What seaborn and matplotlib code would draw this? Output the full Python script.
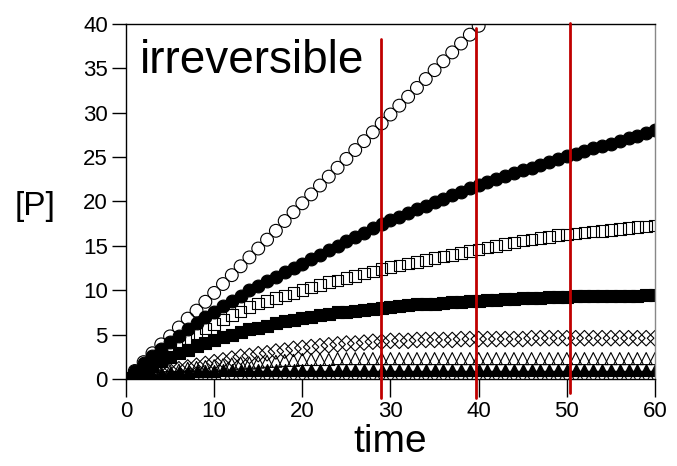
import matplotlib
matplotlib.use("Agg")
import matplotlib.pyplot as plt
import seaborn as sns

# time grid (one sample per time unit)
time = list(range(61))

# [P] for each run
open_circles = [0.0, 0.9, 1.9, 2.9, 3.9, 4.8, 5.8, 6.8, 7.7, 8.7,
                9.7, 10.7, 11.7, 12.7, 13.7, 14.7, 15.7, 16.7, 17.8, 18.8,
                19.8, 20.8, 21.8, 22.8, 23.8, 24.8, 25.8, 26.8, 27.8, 28.8,
                29.8, 30.8, 31.8, 32.8, 33.8, 34.8, 35.8, 36.8, 37.8, 38.8,
                39.8, 40.8]
filled_circles = [0.0, 0.9, 1.8, 2.6, 3.4, 4.2, 4.9, 5.6, 6.3, 7.0,
                  7.6, 8.2, 8.8, 9.4, 10.0, 10.5, 11.0, 11.5, 12.0, 12.5,
                  13.0, 13.5, 14.0, 14.5, 15.0, 15.5, 16.0, 16.5, 17.0, 17.5,
                  17.9, 18.3, 18.7, 19.1, 19.5, 19.9, 20.3, 20.7, 21.1, 21.5,
                  21.9, 22.2, 22.5, 22.9, 23.2, 23.5, 23.8, 24.1, 24.4, 24.8,
                  25.1, 25.4, 25.7, 26.0, 26.3, 26.5, 26.8, 27.1, 27.4, 27.7, 28.0]
open_squares = [0.0, 0.4, 1.1, 1.8, 2.6, 3.3, 4.0, 4.6, 5.2, 5.7,
                6.2, 6.7, 7.2, 7.6, 8.1, 8.5, 8.8, 9.1, 9.4, 9.7,
                10.0, 10.3, 10.6, 10.9, 11.1, 11.4, 11.6, 11.9, 12.1, 12.4,
                12.6, 12.8, 13.0, 13.2, 13.4, 13.6, 13.8, 14.0, 14.2, 14.4,
                14.6, 14.8, 15.0, 15.2, 15.4, 15.6, 15.7, 15.9, 16.0, 16.2,
                16.3, 16.4, 16.5, 16.6, 16.7, 16.8, 16.9, 17.0, 17.1, 17.2, 17.3]
filled_squares = [0.0, 0.5, 1.0, 1.5, 2.0, 2.5, 2.9, 3.3, 3.7, 4.1,
                  4.4, 4.7, 5.0, 5.3, 5.6, 5.8, 6.0, 6.3, 6.5, 6.7,
                  6.9, 7.0, 7.2, 7.3, 7.5, 7.6, 7.7, 7.8, 7.9, 8.0,
                  8.1, 8.2, 8.3, 8.4, 8.5, 8.5, 8.6, 8.7, 8.7, 8.8,
                  8.8, 8.9, 8.9, 9.0, 9.0, 9.1, 9.1, 9.1, 9.2, 9.2,
                  9.2, 9.3, 9.3, 9.3, 9.3, 9.4, 9.4, 9.4, 9.4, 9.5, 9.5]
open_diamonds = [0.0, 0.1, 0.3, 0.5, 0.7, 0.9, 1.1, 1.3, 1.5, 1.7,
                 1.9, 2.1, 2.3, 2.5, 2.6, 2.8, 2.9, 3.1, 3.2, 3.4,
                 3.5, 3.6, 3.7, 3.8, 3.9, 4.0, 4.0, 4.1, 4.2, 4.2,
                 4.3, 4.3, 4.3, 4.4, 4.4, 4.4, 4.4, 4.4, 4.5, 4.5,
                 4.5, 4.5, 4.5, 4.5, 4.5, 4.5, 4.6, 4.6, 4.6, 4.6,
                 4.6, 4.6, 4.6, 4.6, 4.6, 4.6, 4.6, 4.6, 4.6, 4.6, 4.6]
open_triangles = [0.0, 0.1, 0.3, 0.5, 0.7, 0.9, 1.0, 1.2, 1.3, 1.4,
                  1.5, 1.6, 1.7, 1.8, 1.8, 1.9, 2.0, 2.0, 2.1, 2.1,
                  2.2, 2.2, 2.2, 2.2, 2.3, 2.3, 2.3, 2.3, 2.3, 2.3,
                  2.3, 2.3, 2.3, 2.3, 2.3, 2.3, 2.3, 2.3, 2.3, 2.3,
                  2.3, 2.3, 2.3, 2.3, 2.3, 2.3, 2.3, 2.3, 2.3, 2.3,
                  2.3, 2.3, 2.3, 2.3, 2.3, 2.3, 2.3, 2.3, 2.3, 2.3, 2.3]
filled_triangles = [0.0, 0.2, 0.4, 0.5, 0.6, 0.7, 0.8, 0.8, 0.9, 0.9,
                    0.9, 1.0, 1.0, 1.0, 1.0, 1.0, 1.0, 1.0, 1.0, 1.0,
                    1.0, 1.0, 1.0, 1.0, 1.0, 1.0, 1.0, 1.0, 1.0, 1.0,
                    1.0, 1.0, 1.0, 1.0, 1.0, 1.0, 1.0, 1.0, 1.0, 1.0,
                    1.0, 1.0, 1.0, 1.0, 1.0, 1.0, 1.0, 1.0, 1.0, 1.0,
                    1.0, 1.0, 1.0, 1.0, 1.0, 1.0, 1.0, 1.0, 1.0, 1.0, 1.0]
open_down_triangles = [0.0, 0.05, 0.1, 0.1, 0.15, 0.15, 0.2, 0.2, 0.2, 0.2,
                       0.2, 0.2, 0.2, 0.2, 0.2, 0.2, 0.2, 0.2, 0.2, 0.2,
                       0.2, 0.2, 0.2, 0.2, 0.2, 0.2, 0.2, 0.2, 0.2, 0.2,
                       0.2, 0.2, 0.2, 0.2, 0.2, 0.2, 0.2, 0.2, 0.2, 0.2,
                       0.2, 0.2, 0.2, 0.2, 0.2, 0.2, 0.2, 0.2, 0.2, 0.2,
                       0.2, 0.2, 0.2, 0.2, 0.2, 0.2, 0.2, 0.2, 0.2, 0.2, 0.2]

# red vertical markers
red_times = [28.9, 39.65, 50.4]
red_tops = [38.3, 39.5, 40.1]
red_bottoms = [-2.1, -2.1, -1.6]

x_ticks = [0, 10, 20, 30, 40, 50, 60]
y_ticks = [0, 5, 10, 15, 20, 25, 30, 35, 40]

sns.set_style("ticks")
plt.rcParams['font.family'] = ['Liberation Sans', 'DejaVu Sans']
plt.rcParams['text.color'] = 'black'
plt.rcParams['axes.labelcolor'] = 'black'

fig = plt.figure(figsize=(6.77, 4.66), dpi=100)
ax = fig.add_axes([0.1861, 0.1867, 0.7814, 0.7618])

# (values, marker, size, filled)
series = [
    (open_down_triangles, 'v', 70, False),
    (filled_triangles, '^', 75, True),
    (open_triangles, '^', 75, False),
    (open_diamonds, 'D', 62, False),
    (filled_squares, 's', 70, True),
    (open_squares, 's', 70, False),
    (filled_circles, 'o', 85, True),
    (open_circles, 'o', 85, False),
]

for values, marker, size, filled in series:
    t = time[:len(values)]
    if filled:
        sns.scatterplot(x=t, y=values, ax=ax, marker=marker, s=size,
                        facecolor='black', edgecolor='black', linewidth=0.8)
    else:
        sns.scatterplot(x=t, y=values, ax=ax, marker=marker, s=size,
                        facecolor='none', edgecolor='black', linewidth=0.8)

for xt, top, bot in zip(red_times, red_tops, red_bottoms):
    ax.plot([xt, xt], [bot, top], color='#c00000', linewidth=2,
            clip_on=False, zorder=5)

ax.set_xlim(0, 60)
ax.set_ylim(0, 40)
ax.set_xticks(x_ticks)
ax.set_yticks(y_ticks)
ax.tick_params(axis='x', direction='out', length=13, width=1, pad=3,
               labelsize=16, colors='black')
ax.tick_params(axis='y', direction='out', length=10, width=1, pad=3,
               labelsize=16, colors='black')

for side in ['left', 'top', 'bottom']:
    ax.spines[side].set_color('black')
    ax.spines[side].set_linewidth(1)
ax.spines['right'].set_color('#888888')
ax.spines['right'].set_linewidth(1)

ax.set_xlabel('time', fontsize=28, labelpad=1, color='black')
ax.set_ylabel('')
fig.text(0.052, 0.556, '[P]', fontsize=24, ha='center', va='center',
         color='black')
ax.text(0.026, 0.862, 'irreversible', transform=ax.transAxes,
        fontsize=33, ha='left', va='baseline', color='black')

fig.savefig('out.png', dpi=100, facecolor='white')
